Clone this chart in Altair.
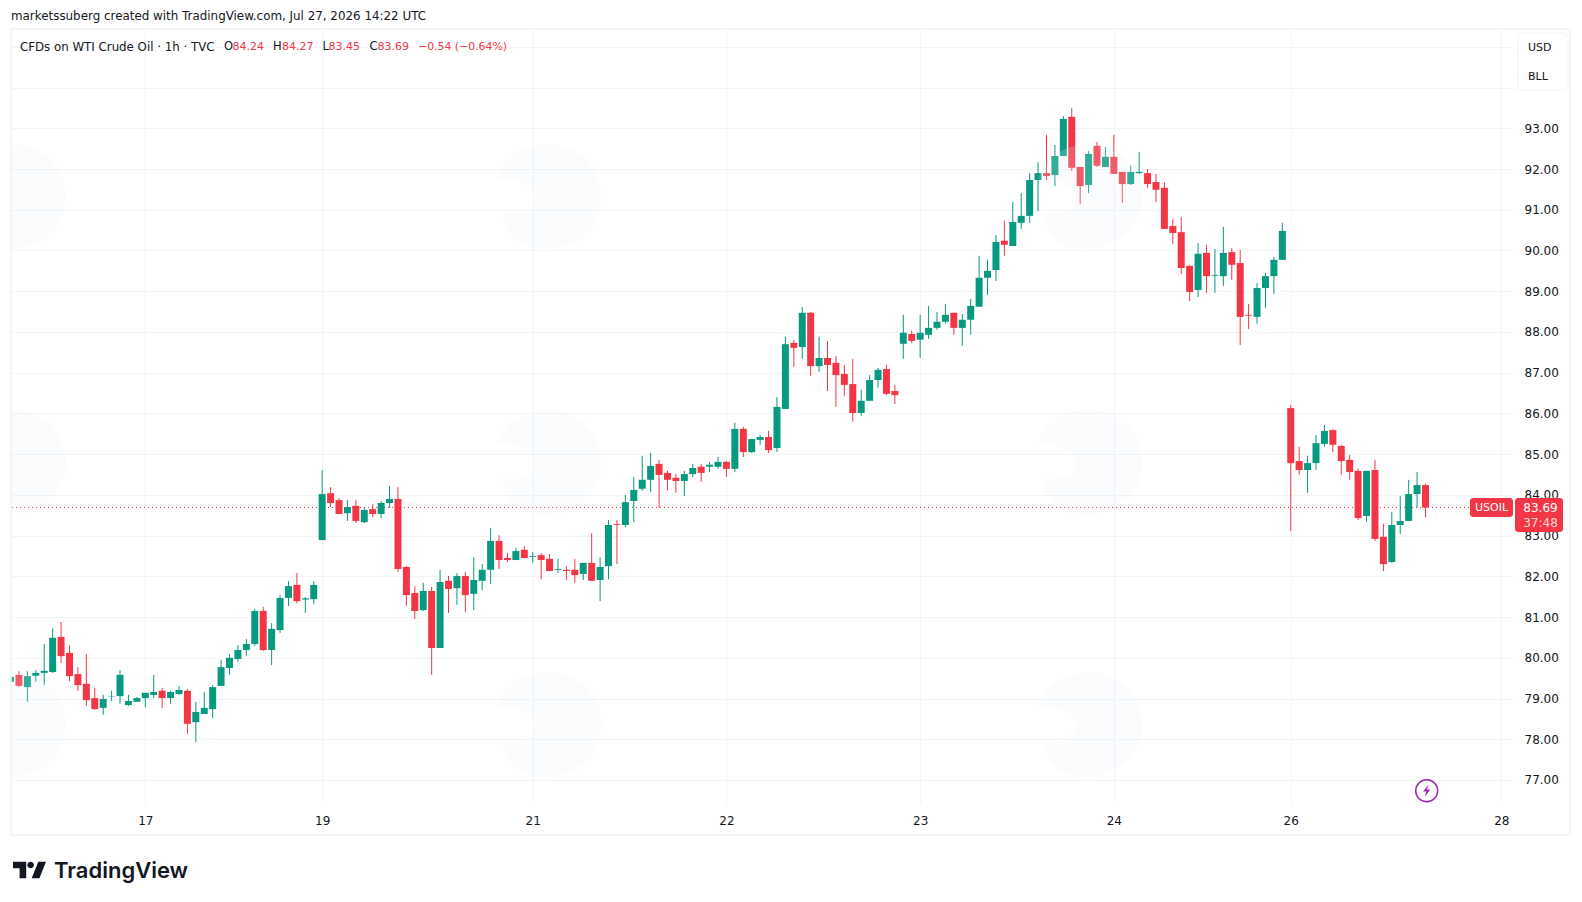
import altair as alt
import pandas as pd

opens = [79.41,79.58,79.28,79.56,79.63,79.65,80.51,80.12,79.60,79.36,79.01,78.77,79.05,79.06,78.84,78.92,79.01,79.09,79.19,79.01,79.11,79.19,78.42,78.62,78.74,79.31,79.75,79.97,80.19,80.34,81.15,80.19,80.68,81.47,81.79,81.43,81.44,
 82.89,84.04,83.87,83.55,83.73,83.33,83.65,83.53,83.80,83.90,82.23,81.59,81.17,81.64,80.24,81.89,81.71,82.01,81.57,81.89,82.16,82.87,82.45,82.40,82.65,82.48,82.52,82.43,82.16,82.16,82.16,82.06,82.33,81.91,82.25,83.28,83.26,83.85,
 84.15,84.37,84.76,84.54,84.42,84.34,84.51,84.69,84.69,84.69,84.81,84.64,85.62,85.05,85.35,85.42,85.15,86.11,87.73,87.63,88.47,87.16,87.36,87.24,86.97,86.72,86.01,86.31,86.82,87.09,86.55,
 87.71,87.95,87.81,87.93,88.10,88.25,88.47,88.10,88.30,88.62,89.33,89.52,90.24,90.11,90.68,90.85,91.73,91.90,91.85,92.32,93.28,92.05,91.61,92.57,92.05,92.30,91.93,91.63,91.90,91.90,91.68,91.54,90.60,
 90.45,89.62,89.03,89.94,89.38,89.37,89.96,89.69,88.42,88.37,89.08,89.37,89.77,
 86.13,84.83,84.61,84.78,85.25,85.59,85.20,84.86,84.59,83.48,84.61,82.97,82.35,83.26,83.36,84.02,84.24]
highs = [79.55,79.67,79.67,79.70,80.34,80.72,80.88,80.31,79.77,80.09,79.26,79.09,79.19,79.70,79.09,79.04,79.14,79.58,79.26,79.19,79.31,79.23,78.92,79.16,79.33,79.95,80.09,80.31,80.46,81.20,81.25,80.85,81.54,81.88,82.08,81.49,81.88,
 84.61,84.19,83.92,83.87,83.87,83.68,83.77,83.85,84.22,84.19,82.25,81.76,81.84,81.74,82.16,82.01,82.08,82.11,82.47,82.30,83.19,83.01,82.57,82.70,82.74,82.60,82.57,82.55,82.43,82.25,82.43,82.33,83.06,82.47,83.38,83.38,84.00,84.44,
 84.96,85.03,84.86,84.59,84.51,84.59,84.76,84.76,84.81,84.93,84.83,85.77,85.67,85.37,85.47,85.57,86.40,87.88,87.80,88.61,88.49,87.88,87.78,87.41,87.19,87.34,86.58,86.94,87.12,87.19,86.70,
 88.42,88.03,88.42,88.64,88.49,88.69,88.47,88.44,88.81,89.87,89.77,90.38,90.73,91.19,91.41,91.90,92.17,92.84,92.59,93.30,93.50,92.05,92.44,92.66,92.54,92.84,91.93,92.08,92.42,92.00,91.88,91.68,90.77,
 90.82,89.65,90.18,90.14,90.04,90.58,90.06,90.01,88.69,89.20,89.45,89.84,90.68,
 86.21,85.18,84.96,85.47,85.72,85.62,85.23,84.98,84.64,84.59,84.86,83.29,83.58,83.97,84.37,84.56,84.27]
lows = [79.40,79.28,78.92,79.41,79.33,79.63,79.87,79.43,79.19,78.82,78.72,78.60,78.94,78.87,78.82,78.92,78.79,79.01,78.77,78.87,79.09,78.13,77.93,78.62,78.52,79.31,79.58,79.90,80.04,80.29,80.17,79.82,80.61,81.27,81.34,81.10,81.32,
 82.89,83.70,83.53,83.36,83.31,83.31,83.46,83.43,83.68,82.11,81.27,80.95,81.15,79.58,80.24,81.10,81.30,81.12,81.17,81.66,81.81,82.18,82.35,82.40,82.45,82.33,81.93,82.13,82.08,81.91,81.84,81.91,81.89,81.39,81.93,82.30,83.21,83.33,
 84.10,84.07,83.68,84.10,84.05,83.97,84.44,84.32,84.56,84.64,84.44,84.56,84.93,85.03,85.23,85.03,85.05,86.11,87.14,87.34,86.92,87.02,86.55,86.16,86.43,85.79,85.94,86.31,86.63,86.45,86.23,
 87.34,87.73,87.36,87.83,88.05,88.20,87.93,87.66,87.93,88.62,88.91,89.25,89.87,90.11,90.53,90.68,90.97,91.73,91.58,92.32,91.95,91.14,91.41,92.05,92.05,91.88,91.17,91.61,91.88,91.54,91.19,90.53,90.16,
 89.42,88.76,88.86,88.96,88.96,89.13,89.28,87.68,88.07,88.20,88.59,88.93,89.77,
 83.11,84.49,84.05,84.61,85.18,85.05,84.49,84.37,83.38,83.34,82.87,82.13,82.33,83.04,83.36,83.68,83.45]
closes = [79.53,79.31,79.55,79.63,79.68,80.49,80.04,79.55,79.33,78.96,78.74,78.99,79.06,79.58,78.94,79.01,79.14,79.16,79.01,79.16,79.21,78.38,78.67,78.77,79.28,79.77,80.00,80.19,80.34,81.15,80.19,80.71,81.47,81.76,81.39,81.46,81.79,
 84.02,83.80,83.53,83.70,83.36,83.63,83.53,83.80,83.90,82.18,81.54,81.15,81.64,80.24,81.86,81.69,82.01,81.54,81.91,82.16,82.87,82.40,82.40,82.62,82.45,82.50,82.40,82.13,82.18,82.13,82.03,82.33,81.89,82.23,83.26,83.26,83.82,84.12,
 84.37,84.71,84.49,84.37,84.34,84.51,84.66,84.54,84.74,84.81,84.64,85.62,85.05,85.37,85.42,85.10,86.16,87.70,87.61,88.47,87.16,87.36,87.19,86.94,86.70,86.01,86.31,86.82,87.07,86.48,86.45,
 87.98,87.78,87.98,88.10,88.25,88.42,88.10,88.30,88.64,89.33,89.50,90.21,90.14,90.70,90.85,91.73,91.90,91.83,92.32,93.23,92.03,91.58,92.37,92.08,92.30,91.88,91.63,91.93,91.93,91.63,91.49,90.53,90.43,
 89.57,88.98,89.92,89.37,89.40,89.94,89.65,88.37,88.40,89.08,89.37,89.77,90.48,
 84.78,84.61,84.78,85.27,85.57,85.23,84.83,84.56,83.43,84.59,82.92,82.30,83.26,83.36,84.02,84.24,83.69]

day_positions = [16, 37, 62, 85, 108, 131, 152, 177]
day_labels = ["17", "19", "21", "22", "23", "24", "26", "28"]
price_ticks = list(range(77, 96))
last_price = [83.69]
watermark_bar = [0.4, 64, 128.2, 0.4, 64, 128.2, 0.4, 64, 128.2]
watermark_price = [91.31, 91.31, 91.31, 84.80, 84.80, 84.80, 78.35, 78.35, 78.35]

GREEN = "#089981"
RED = "#f23645"
INK = "#131722"
GRID = "#f2f4f7"
FONT = "DejaVu Sans"
LEFT, TOP = 11, 30
W, H = 1502, 773

df = pd.DataFrame({"i": list(range(len(opens))), "o": opens, "h": highs, "l": lows, "c": closes})
df["dir"] = ["up" if c >= o else "down" for o, c in zip(opens, closes)]

label_map = "{" + ",".join(f"'{p}':'{t}'" for p, t in zip(day_positions, day_labels)) + "}"
xscale = alt.Scale(domain=[0.055, 178.39], nice=False, zero=False, padding=0)
yscale = alt.Scale(domain=[76.435, 95.413], nice=False, zero=False, padding=0)
colorscale = alt.Scale(domain=["up", "down"], range=[GREEN, RED])

xenc = alt.X("i:Q", scale=xscale, title=None, axis=alt.Axis(
    values=day_positions, labelExpr=f"{label_map}[datum.value]", grid=True, gridColor=GRID, gridWidth=1,
    domain=False, ticks=False, labelPadding=12, labelFont=FONT, labelFontSize=12, labelColor=INK,
    labelFontWeight=500, labelFlush=False, labelOverlap=False))
yenc = alt.Y("l:Q", scale=yscale, title=None, axis=alt.Axis(
    orient="right", values=price_ticks, labelExpr="datum.value <= 93 ? format(datum.value, '.2f') : ''",
    grid=True, gridColor=GRID, gridWidth=1, domain=False, ticks=False, labelPadding=11,
    labelFont=FONT, labelFontSize=12, labelColor=INK, labelOverlap=False))

wicks = alt.Chart(df).mark_rule(strokeWidth=1, clip=True).encode(
    x=xenc, y=yenc, y2="h:Q",
    color=alt.Color("dir:N", scale=colorscale, legend=None))
bodies = alt.Chart(df).mark_bar(size=7, clip=True).encode(
    x=alt.X("i:Q", scale=xscale), y=alt.Y("o:Q", scale=yscale), y2="c:Q",
    color=alt.Color("dir:N", scale=colorscale, legend=None))
last_line = alt.Chart(pd.DataFrame({"p": last_price})).mark_rule(
    color=RED, strokeWidth=1, strokeDash=[1, 3]).encode(y=alt.Y("p:Q", scale=yscale))

BLOB = ("M -0.2 -1 C 0.5 -1.1 1 -0.6 1 0 C 1 0.6 0.5 1 -0.1 1 C -0.6 1 -0.9 0.7 -0.9 0.3 "
        "C -0.4 0.4 -0.1 0.1 -0.4 -0.2 C -0.7 -0.4 -0.9 -0.3 -1 -0.35 C -0.9 -0.7 -0.6 -0.95 -0.2 -1 Z")
watermark = alt.Chart(pd.DataFrame({"i": watermark_bar, "p": watermark_price})).mark_point(
    shape=BLOB, filled=True, size=10816, color="#e8eefa", opacity=0.2, strokeWidth=0, clip=True).encode(
    x=alt.X("i:Q", scale=xscale), y=alt.Y("p:Q", scale=yscale))


def one():
    return pd.DataFrame({"k": [0]})


def text(s, px, py, color=INK, size=12, font=FONT, align="left", weight=400):
    return alt.Chart(one()).mark_text(
        text=s, align=align, baseline="middle", color=color, fontSize=size, font=font, fontWeight=weight
    ).encode(x=alt.value(px - LEFT), y=alt.value(py - TOP))


def box(x0, y0, x1, y1, fill=None, stroke=None, radius=0, sw=1):
    kw = {"cornerRadius": radius}
    if fill:
        kw["fill"] = fill
    else:
        kw["fillOpacity"] = 0
    if stroke:
        kw["stroke"] = stroke
        kw["strokeWidth"] = sw
    return alt.Chart(one()).mark_rect(**kw).encode(
        x=alt.value(x0 - LEFT), x2=alt.value(x1 - LEFT), y=alt.value(y0 - TOP), y2=alt.value(y1 - TOP))


def glyph(shape, px, py, size, color, filled=True, sw=0):
    return alt.Chart(one()).mark_point(
        shape=shape, size=size, filled=filled, color=color, opacity=1, strokeWidth=sw
    ).encode(x=alt.value(px - LEFT), y=alt.value(py - TOP))


legend = [("CFDs on WTI Crude Oil · 1h · TVC", 20, INK, 11.8), ("O", 224, INK, 11.5), ("84.24", 232.5, RED, 11),
          ("H", 273, INK, 11.5), ("84.27", 282, RED, 11), ("L", 322.5, INK, 11.5), ("83.45", 328.5, RED, 11),
          ("C", 369.5, INK, 11.5), ("83.69", 377.5, RED, 11), ("−0.54 (−0.64%)", 418, RED, 10.9)]

TV_LOGO = ("M -3 -7.5 H -15 v 6 h 6 v 9 h 6 V -7.5 Z m 12 15 h -7 l 6 -15 h 7 l -6 15 Z "
           "m -8 -9 a 3 3 0 1 0 0 -6 3 3 0 0 0 0 6 Z")
BOLT = "M 0.3 -1 L -0.6 0.15 L -0.05 0.15 L -0.3 1 L 0.6 -0.2 L 0.05 -0.2 Z"
PURPLE = "#9c27b0"

chrome = [
    box(11, 29, 1570, 835, stroke="#f0f2f5", sw=1.5),
    text("marketssuberg created with TradingView.com, Jul 27, 2026 14:22 UTC", 11, 16, size=11.9),
] + [text(t, x, 47, color=c, size=s) for t, x, c, s in legend] + [
    box(1518, 33, 1568, 90, fill="#ffffff", stroke="#f0f2f5", radius=4, sw=1),
    text("USD", 1528, 48, size=11),
    text("BLL", 1528, 77, size=11),
    box(1470, 498, 1513, 517, fill=RED, radius=3),
    text("USOIL", 1491.5, 508, color="#ffffff", size=11, align="center"),
    box(1515, 498, 1563, 532, fill=RED, radius=3),
    text("83.69", 1540.5, 508, color="#ffffff", size=12, align="center"),
    text("37:48", 1540.5, 523, color="#ffd9dc", size=12, align="center"),
    glyph("circle", 1426.7, 790.7, 484, PURPLE, filled=False, sw=1.5),
    glyph(BOLT, 1426.7, 790.7, 144, PURPLE),
    glyph(TV_LOGO, 29.5, 870, 4.84, INK),
    text("TradingView", 54, 871, size=22, font="Inter", weight=600),
]

chart = alt.layer(wicks, last_line, bodies, watermark, *chrome).properties(
    width=W, height=H,
    padding={"left": LEFT - 8, "top": TOP - 8, "right": 61, "bottom": 83},
    autosize=alt.AutoSizeParams(type="none"),
    background="#ffffff",
).configure_view(stroke=None)

chart.save("out.html", embed_options={"renderer": "svg", "actions": False})
